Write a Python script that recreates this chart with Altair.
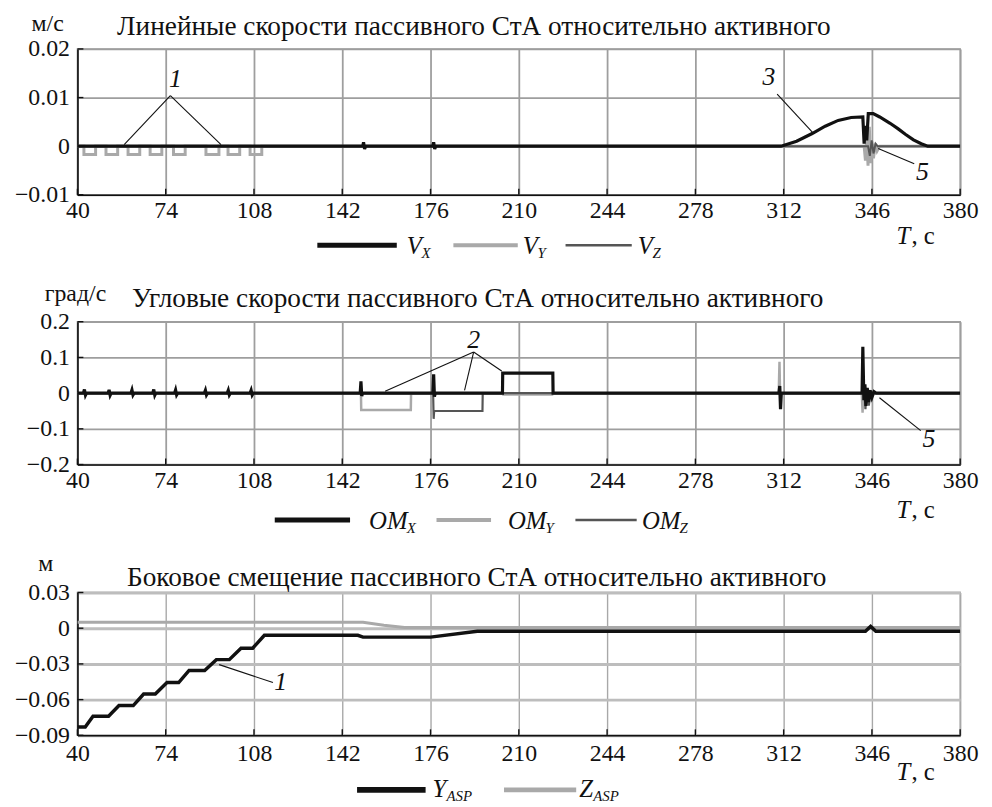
import altair as alt
import pandas as pd

FONT = "Liberation Serif, DejaVu Serif, serif"
X_DOMAIN = [40, 380]
X_TICKS = [40, 74, 108, 142, 176, 210, 244, 278, 312, 346, 380]

# ---------------- Panel 1: linear velocities ----------------
P1_TITLE = "Линейные скорости пассивного СтА относительно активного"
P1_UNIT = "м/с"
P1_Y_DOMAIN = [-0.01, 0.02]
P1_Y_TICKS = [-0.01, 0, 0.01, 0.02]

VX_T = [40, 149.9, 150.2, 150.6, 151.0, 176.9, 177.2, 177.6, 178.0, 311, 317, 323, 328, 333, 338,
        342.5, 343.0, 343.5, 344.0, 344.6, 346.5, 349, 353, 356, 359, 362, 365, 367.5, 380]
VX_V = [0, 0, 0.0008, -0.0006, 0, 0, 0.0008, -0.0006, 0, 0, 0.001, 0.0026, 0.0041, 0.0053, 0.0059,
        0.006, 0.0005, 0.0042, 0.0012, 0.0067, 0.0067, 0.006, 0.0047, 0.0036, 0.0024, 0.0013, 0.0005, 0, 0]

VY_T = [40,
        42.5, 42.5, 47, 47,
        51, 51, 55.5, 55.5,
        59.5, 59.5, 64, 64,
        68, 68, 72.5, 72.5,
        77, 77, 81.5, 81.5,
        89.5, 89.5, 94.5, 94.5,
        98, 98, 102.5, 102.5,
        106.5, 106.5, 111, 111,
        343.0, 343.5, 344.0, 344.5, 345.0, 345.5, 346.0, 346.6, 347.3, 348.0, 349.0, 380]
VY_V = [0,
        0, -0.0017, -0.0017, 0,
        0, -0.0017, -0.0017, 0,
        0, -0.0017, -0.0017, 0,
        0, -0.0017, -0.0017, 0,
        0, -0.0017, -0.0017, 0,
        0, -0.0017, -0.0017, 0,
        0, -0.0017, -0.0017, 0,
        0, -0.0017, -0.0017, 0,
        0, -0.003, 0.002, -0.004, 0.004, -0.0035, 0.001, -0.0025, 0.0005, -0.001, 0, 0]

VZ_T = [40, 344.5, 345.2, 345.9, 346.6, 347.4, 348.2, 380]
VZ_V = [0, 0, -0.002, 0.0012, -0.0015, 0.0005, 0, 0]

P1_LEG_MAIN = ["V", "V", "V"]
P1_LEG_SUB = ["X", "Y", "Z"]
P1_LEG_T1 = [132.4, 184.8, 228.0]
P1_LEG_T2 = [163.0, 209.6, 253.5]
P1_LEG_TL = [166.8, 211.5, 255.8]

P1_NOTE_TEXT = ["1", "3", "5"]
P1_NOTE_T = [77.7, 306.3, 365.5]
P1_NOTE_V = [0.0138, 0.0143, -0.0054]
P1_LEAD_T1 = [75.8, 75.8, 309.5, 362.3]
P1_LEAD_V1 = [0.0104, 0.0104, 0.0107, -0.0036]
P1_LEAD_T2 = [58.0, 95.3, 323.4, 348.4]
P1_LEAD_V2 = [0.0003, 0.0003, 0.0027, -0.0005]

# ---------------- Panel 2: angular velocities ----------------
P2_TITLE = "Угловые скорости пассивного СтА относительно активного"
P2_UNIT = "град/с"
P2_Y_DOMAIN = [-0.2, 0.2]
P2_Y_TICKS = [-0.2, -0.1, 0, 0.1, 0.2]

OMX_T = [40,
         42.3, 42.7, 43.1, 43.5,
         51.8, 52.2, 52.6, 53.0,
         60.6, 61.0, 61.4, 61.8,
         69.0, 69.4, 69.8, 70.2,
         77.4, 77.8, 78.2, 78.6,
         88.9, 89.3, 89.7, 90.1,
         97.7, 98.1, 98.5, 98.9,
         106.5, 106.9, 107.3, 107.7,
         148.9, 149.2, 149.5, 149.8,
         176.9, 177.2, 177.5, 177.8,
         203.7, 203.8, 223.1, 223.2,
         310.2, 310.5, 310.8, 311.1,
         342.2, 342.5, 342.9, 343.3, 343.7, 344.2, 344.7, 345.3, 346.0, 346.8, 347.6,
         380]
OMX_V = [0,
         0, 0.01, -0.006, 0,
         0, 0.009, -0.006, 0,
         0, 0.009, -0.005, 0,
         0, 0.01, -0.006, 0,
         0, 0.009, -0.005, 0,
         0, 0.008, -0.005, 0,
         0, 0.008, -0.005, 0,
         0, 0.008, -0.005, 0,
         0, 0.033, -0.008, 0,
         0, 0.053, -0.01, 0,
         0, 0.056, 0.056, 0,
         0, 0.02, -0.045, 0,
         0, 0.13, -0.02, 0.025, -0.036, 0.015, -0.025, 0.008, -0.012, 0.004, 0,
         0]

OMY_T = [40, 149.2, 149.3, 168.4, 168.5, 203.8, 204.0, 222.9, 223.1, 310.1, 310.4, 310.7, 311.0,
         342.1, 342.4, 342.8, 343.2, 343.7, 344.4, 380]
OMY_V = [0, 0, -0.047, -0.047, 0, 0, -0.004, -0.004, 0, 0, 0.088, -0.03, 0,
         0, -0.055, 0.03, -0.03, 0.01, 0, 0]

OMZ_T = [40, 177.0, 177.2, 177.4, 196.0, 196.1, 342.6, 343.0, 343.5, 344.0, 344.8, 345.5, 346.5, 380]
OMZ_V = [0, 0, -0.072, -0.05, -0.05, 0, 0, 0.02, -0.045, 0.01, -0.035, 0.005, 0, 0]

P2_LEG_MAIN = ["OM", "OM", "OM"]
P2_LEG_SUB = ["X", "Y", "Z"]
P2_LEG_T1 = [116.0, 178.3, 231.8]
P2_LEG_T2 = [145.0, 199.3, 255.4]
P2_LEG_TL = [152.3, 205.8, 257.4]

P2_NOTE_TEXT = ["2", "5"]
P2_NOTE_T = [192.6, 368.0]
P2_NOTE_V = [0.149, -0.129]
P2_LEAD_T1 = [192.6, 192.6, 192.6, 364.8]
P2_LEAD_V1 = [0.115, 0.115, 0.115, -0.105]
P2_LEAD_T2 = [158.5, 189.1, 203.4, 348.9]
P2_LEAD_V2 = [0.005, 0.008, 0.062, -0.013]

# ---------------- Panel 3: lateral displacement ----------------
P3_TITLE = "Боковое смещение пассивного СтА относительно активного"
P3_UNIT = "м"
P3_Y_DOMAIN = [-0.09, 0.03]
P3_Y_TICKS = [-0.09, -0.06, -0.03, 0, 0.03]

YASP_T = [40, 43, 46, 52, 56, 61.5, 65.5, 70, 74.5, 79, 83, 89, 93.5, 98.5, 103, 107.5, 112,
          148, 150, 176, 194, 343.5, 345.5, 347.5, 380]
YASP_V = [-0.083, -0.083, -0.074, -0.074, -0.065, -0.065, -0.0553, -0.0553, -0.0457, -0.0457,
          -0.0355, -0.0355, -0.0264, -0.0264, -0.0168, -0.0168, -0.006,
          -0.006, -0.0075, -0.0075, -0.0025, -0.0025, 0.0015, -0.0025, -0.0025]

ZASP_T = [40, 150, 158, 166, 380]
ZASP_V = [0.005, 0.005, 0.0025, 0.0006, 0.0006]

P3_LEG_MAIN = ["Y", "Z"]
P3_LEG_SUB = ["ASP", "ASP"]
P3_LEG_T1 = [147.7, 204.3]
P3_LEG_T2 = [174.1, 232.1]
P3_LEG_TL = [176.8, 233.3]

P3_NOTE_TEXT = ["1"]
P3_NOTE_T = [118.3]
P3_NOTE_V = [-0.045]
P3_LEAD_T1 = [94.6]
P3_LEAD_V1 = [-0.0306]
P3_LEAD_T2 = [115.3]
P3_LEAD_V2 = [-0.0457]

T_LABEL_T = 355.5

BLACK = "#111111"
LIGHT = "#a9a9a9"
DARK = "#555555"
W = 890
TICK_LEN = 6


def series(t, v):
    return pd.DataFrame({"t": t, "v": v, "i": list(range(len(t)))})


def make_panel(cfg):
    h = cfg["h"]
    xs = alt.Scale(domain=X_DOMAIN, nice=False, zero=False)
    ys = alt.Scale(domain=cfg["ydom"], nice=False, zero=False)
    xaxis = alt.Axis(values=X_TICKS, format="d", grid=True, ticks=False, tickSize=0,
                     labelPadding=cfg["xpad"], labelFlush=False, labelOverlap=False,
                     labelFont=FONT, labelFontSize=24, labelColor=BLACK,
                     domainColor=BLACK, domainWidth=1.6,
                     gridColor=cfg["vgrid_color"], gridWidth=cfg["vgrid_w"], title=None)
    yaxis = alt.Axis(values=cfg["yticks"], format=cfg["fmt"], grid=True, ticks=False, tickSize=0,
                     labelPadding=8, labelFlush=False, labelOverlap=False,
                     labelFont=FONT, labelFontSize=24, labelColor=BLACK,
                     domainColor=BLACK, domainWidth=1.6,
                     gridColor=cfg["hgrid_color"], gridWidth=cfg["hgrid_w"], title=None)
    X = alt.X("t:Q", scale=xs, axis=xaxis, title=None)
    Y = alt.Y("v:Q", scale=ys, axis=yaxis, title=None)

    layers = []
    for (t, v, color, width) in cfg["series"]:
        layers.append(
            alt.Chart(series(t, v)).mark_line(color=color, strokeWidth=width, clip=True)
            .encode(x=X, y=Y, order=alt.Order("i:Q"))
        )
    # inward axis ticks
    layers.append(alt.Chart(pd.DataFrame({"v": cfg["yticks"]})).mark_rule(color=BLACK, strokeWidth=1.4)
                  .encode(y=Y, x=alt.value(0), x2=alt.value(TICK_LEN)))
    layers.append(alt.Chart(pd.DataFrame({"t": X_TICKS})).mark_rule(color=BLACK, strokeWidth=1.4)
                  .encode(x=X, y=alt.value(h), y2=alt.value(h - TICK_LEN)))
    # annotations
    lead = pd.DataFrame({"t": cfg["lead"][0], "v": cfg["lead"][1],
                         "t2": cfg["lead"][2], "v2": cfg["lead"][3]})
    layers.append(alt.Chart(lead).mark_rule(color=BLACK, strokeWidth=1.1)
                  .encode(x=X, y=Y, x2="t2:Q", y2="v2:Q"))
    notes = pd.DataFrame({"t": cfg["notes"][1], "v": cfg["notes"][2], "s": cfg["notes"][0]})
    layers.append(alt.Chart(notes).mark_text(font=FONT, fontSize=26, fontStyle="italic",
                                             color=BLACK, align="center", baseline="middle")
                  .encode(x=X, y=Y, text="s:N"))
    # legend
    leg = pd.DataFrame({"t": cfg["leg"]["t1"], "t2": cfg["leg"]["t2"], "tl": cfg["leg"]["tl"],
                        "m": cfg["leg"]["main"], "s": cfg["leg"]["sub"],
                        "c": cfg["leg"]["color"], "w": cfg["leg"]["width"]})
    ly = cfg["leg_y"]
    layers.append(alt.Chart(leg).mark_rule(strokeCap="butt")
                  .encode(x=X, x2="t2:Q", y=alt.value(ly),
                          color=alt.Color("c:N", scale=None),
                          strokeWidth=alt.StrokeWidth("w:Q", scale=None)))
    layers.append(alt.Chart(leg).mark_text(font=FONT, fontSize=25, fontStyle="italic",
                                           color=BLACK, align="left", baseline="alphabetic")
                  .encode(x=alt.X("tl:Q", scale=xs, axis=xaxis, title=None),
                          y=alt.value(ly + cfg["leg_dy"]), text="m:N"))
    layers.append(alt.Chart(leg).mark_text(font=FONT, fontSize=15, fontStyle="italic",
                                           color=BLACK, align="left", baseline="alphabetic",
                                           dx=cfg["sub_dx"])
                  .encode(x=alt.X("tl:Q", scale=xs, axis=xaxis, title=None),
                          y=alt.value(ly + cfg["leg_dy"] + 4), text="s:N"))
    tdf = pd.DataFrame({"t": [T_LABEL_T], "a": ["T"], "b": [", с"]})
    layers.append(alt.Chart(tdf).mark_text(font=FONT, fontSize=25, fontStyle="italic",
                                           color=BLACK, align="left", baseline="alphabetic")
                  .encode(x=X, y=alt.value(cfg["T_y"]), text="a:N"))
    layers.append(alt.Chart(tdf).mark_text(font=FONT, fontSize=25, color=BLACK, align="left",
                                           baseline="alphabetic", dx=15)
                  .encode(x=X, y=alt.value(cfg["T_y"]), text="b:N"))
    # title and unit
    layers.append(alt.Chart(pd.DataFrame({"s": [cfg["title"]]}))
                  .mark_text(font=FONT, fontSize=cfg["title_size"], color=BLACK, align="left",
                             baseline="alphabetic")
                  .encode(x=alt.value(cfg["title_x"]), y=alt.value(cfg["title_y"]), text="s:N"))
    layers.append(alt.Chart(pd.DataFrame({"s": [cfg["unit"]]}))
                  .mark_text(font=FONT, fontSize=24, color=BLACK, align="center", baseline="alphabetic")
                  .encode(x=alt.value(cfg["unit_x"]), y=alt.value(cfg["unit_y"]), text="s:N"))
    return alt.layer(*layers).properties(width=W, height=h)


p1 = make_panel(dict(
    ydom=P1_Y_DOMAIN, yticks=P1_Y_TICKS, fmt=".2~f", h=147, xpad=4,
    vgrid_color="#9e9e9e", vgrid_w=1.8, hgrid_color="#9e9e9e", hgrid_w=1.8,
    series=[(VY_T, VY_V, LIGHT, 3), (VZ_T, VZ_V, DARK, 2), (VX_T, VX_V, BLACK, 3.2)],
    lead=(P1_LEAD_T1, P1_LEAD_V1, P1_LEAD_T2, P1_LEAD_V2),
    notes=(P1_NOTE_TEXT, P1_NOTE_T, P1_NOTE_V),
    leg=dict(t1=P1_LEG_T1, t2=P1_LEG_T2, tl=P1_LEG_TL, main=P1_LEG_MAIN, sub=P1_LEG_SUB,
             color=[BLACK, LIGHT, DARK], width=[5, 4, 2.5]),
    leg_y=198, leg_dy=9, sub_dx=15, T_y=197,
    title=P1_TITLE, title_size=27.5, title_x=40, title_y=-14, unit=P1_UNIT, unit_x=-30, unit_y=-18,
))

p2 = make_panel(dict(
    ydom=P2_Y_DOMAIN, yticks=P2_Y_TICKS, fmt=".1~f", h=144, xpad=4,
    vgrid_color="#9e9e9e", vgrid_w=1.8, hgrid_color="#9e9e9e", hgrid_w=1.8,
    series=[(OMY_T, OMY_V, LIGHT, 2.5), (OMZ_T, OMZ_V, DARK, 2.2), (OMX_T, OMX_V, BLACK, 3.2)],
    lead=(P2_LEAD_T1, P2_LEAD_V1, P2_LEAD_T2, P2_LEAD_V2),
    notes=(P2_NOTE_TEXT, P2_NOTE_T, P2_NOTE_V),
    leg=dict(t1=P2_LEG_T1, t2=P2_LEG_T2, tl=P2_LEG_TL, main=P2_LEG_MAIN, sub=P2_LEG_SUB,
             color=[BLACK, LIGHT, DARK], width=[5, 4, 2.5]),
    leg_y=200, leg_dy=9, sub_dx=38, T_y=198,
    title=P2_TITLE, title_size=27.5, title_x=55, title_y=-15, unit=P2_UNIT, unit_x=-2, unit_y=-21,
))

p3 = make_panel(dict(
    ydom=P3_Y_DOMAIN, yticks=P3_Y_TICKS, fmt=".2~f", h=144, xpad=6,
    vgrid_color="#a8a8a8", vgrid_w=1.4, hgrid_color="#bdbdbd", hgrid_w=3,
    series=[(ZASP_T, ZASP_V, LIGHT, 3), (YASP_T, YASP_V, BLACK, 3.5)],
    lead=(P3_LEAD_T1, P3_LEAD_V1, P3_LEAD_T2, P3_LEAD_V2),
    notes=(P3_NOTE_TEXT, P3_NOTE_T, P3_NOTE_V),
    leg=dict(t1=P3_LEG_T1, t2=P3_LEG_T2, tl=P3_LEG_TL, main=P3_LEG_MAIN, sub=P3_LEG_SUB,
             color=[BLACK, LIGHT], width=[6, 5]),
    leg_y=199, leg_dy=7, sub_dx=14, T_y=189,
    title=P3_TITLE, title_size=27.5, title_x=50, title_y=-7, unit=P3_UNIT, unit_x=-32, unit_y=-22,
))

chart = alt.vconcat(alt.vconcat(p1, p2, spacing=19), p3, spacing=14).properties(
    padding={"left": 5, "top": 0, "right": 5, "bottom": 2}
).configure_view(stroke="#9e9e9e", strokeWidth=1.5)

chart.save("out.html", embed_options={"renderer": "svg", "actions": False})
